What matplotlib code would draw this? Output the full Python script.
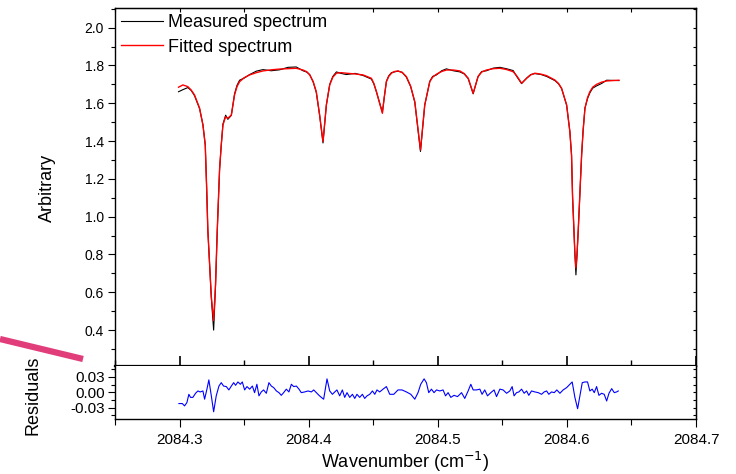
import matplotlib
matplotlib.use("Agg")
import matplotlib.pyplot as plt
from matplotlib.lines import Line2D
from matplotlib.ticker import MultipleLocator, FormatStrFormatter

plt.rcParams['font.family'] = ['Liberation Sans', 'DejaVu Sans']

# spectrum
wavenumber = [2084.2992, 2084.3026, 2084.3064, 2084.3090, 2084.3116, 2084.3155, 2084.3181,
              2084.3199, 2084.3210, 2084.3219, 2084.3246, 2084.3264, 2084.3279, 2084.3292,
              2084.3310, 2084.3323, 2084.3336, 2084.3357, 2084.3374, 2084.3401, 2084.3426,
              2084.3445, 2084.3465, 2084.3500, 2084.3543, 2084.3595, 2084.3646, 2084.3710,
              2084.3775, 2084.3840, 2084.3904, 2084.3956, 2084.3985, 2084.4008, 2084.4035,
              2084.4059, 2084.4085, 2084.4111, 2084.4137, 2084.4163, 2084.4187, 2084.4215,
              2084.4250, 2084.4292, 2084.4360, 2084.4421, 2084.4486, 2084.4505, 2084.4525,
              2084.4571, 2084.4585, 2084.4602, 2084.4620, 2084.4641, 2084.4665, 2084.4692,
              2084.4725, 2084.4757, 2084.4790, 2084.4822, 2084.4866, 2084.4899, 2084.4938,
              2084.4960, 2084.4990, 2084.5030, 2084.5067, 2084.5120, 2084.5171, 2084.5205,
              2084.5236, 2084.5274, 2084.5312, 2084.5340, 2084.5377, 2084.5430, 2084.5481,
              2084.5530, 2084.5584, 2084.5615, 2084.5649, 2084.5688, 2084.5720, 2084.5752,
              2084.5800, 2084.5843, 2084.5907, 2084.5935, 2084.5959, 2084.5998, 2084.6023,
              2084.6036, 2084.6044, 2084.6062, 2084.6070, 2084.6078, 2084.6088, 2084.6114,
              2084.6126, 2084.6140, 2084.6160, 2084.6178, 2084.6200, 2084.6230, 2084.6270,
              2084.6308, 2084.6403]

fitted = [1.685, 1.697, 1.688, 1.670, 1.644, 1.574, 1.485, 1.379, 1.150, 0.930, 0.577,
          0.450, 0.650, 0.930, 1.250, 1.379, 1.485, 1.529, 1.520, 1.538, 1.644, 1.688,
          1.714, 1.735, 1.750, 1.762, 1.771, 1.777, 1.781, 1.783, 1.785, 1.776, 1.767,
          1.750, 1.715, 1.661, 1.538, 1.397, 1.591, 1.697, 1.738, 1.759, 1.762, 1.759,
          1.755, 1.750, 1.732, 1.705, 1.661, 1.547, 1.630, 1.714, 1.742, 1.759, 1.768,
          1.771, 1.762, 1.741, 1.690, 1.608, 1.353, 1.591, 1.714, 1.738, 1.754, 1.768,
          1.776, 1.776, 1.771, 1.757, 1.732, 1.653, 1.741, 1.765, 1.776, 1.783, 1.785,
          1.779, 1.767, 1.742, 1.706, 1.732, 1.750, 1.759, 1.754, 1.746, 1.723, 1.705,
          1.679, 1.591, 1.450, 1.326, 1.106, 0.808, 0.729, 0.800, 0.930, 1.326, 1.458,
          1.574, 1.630, 1.661, 1.685, 1.700, 1.712, 1.718, 1.722]

measured = [1.661, 1.672, 1.683, 1.668, 1.640, 1.572, 1.487, 1.380, 1.150, 0.928, 0.570,
            0.400, 0.640, 0.925, 1.250, 1.380, 1.490, 1.537, 1.515, 1.536, 1.650, 1.695,
            1.722, 1.733, 1.752, 1.770, 1.778, 1.772, 1.777, 1.790, 1.792, 1.772, 1.765,
            1.752, 1.712, 1.658, 1.535, 1.390, 1.590, 1.700, 1.742, 1.766, 1.758, 1.752,
            1.758, 1.747, 1.728, 1.702, 1.660, 1.552, 1.628, 1.716, 1.745, 1.762, 1.766,
            1.770, 1.764, 1.738, 1.688, 1.606, 1.345, 1.590, 1.716, 1.742, 1.750, 1.772,
            1.782, 1.772, 1.766, 1.755, 1.730, 1.650, 1.742, 1.768, 1.772, 1.786, 1.790,
            1.783, 1.773, 1.738, 1.704, 1.733, 1.752, 1.757, 1.752, 1.742, 1.720, 1.703,
            1.678, 1.590, 1.450, 1.325, 1.105, 0.800, 0.692, 0.790, 0.928, 1.325, 1.460,
            1.575, 1.625, 1.655, 1.680, 1.692, 1.705, 1.722, 1.720]

# residuals
wn_res = [2084.2995, 2084.3021, 2084.3039, 2084.3057, 2084.3072, 2084.3085, 2084.3103,
          2084.3124, 2084.3142, 2084.3160, 2084.3181, 2084.3194, 2084.3212, 2084.3227,
          2084.3246, 2084.3264, 2084.3284, 2084.3305, 2084.3323, 2084.3341, 2084.3362,
          2084.3382, 2084.3401, 2084.3419, 2084.3434, 2084.3452, 2084.3471, 2084.3486,
          2084.3504, 2084.3522, 2084.3543, 2084.3564, 2084.3581, 2084.3599, 2084.3615,
          2084.3633, 2084.3651, 2084.3672, 2084.3692, 2084.3711, 2084.3729, 2084.3750,
          2084.3770, 2084.3788, 2084.3806, 2084.3827, 2084.3847, 2084.3866, 2084.3884,
          2084.3905, 2084.3925, 2084.3943, 2084.3969, 2084.3995, 2084.4021, 2084.4039,
          2084.4060, 2084.4080, 2084.4098, 2084.4116, 2084.4142, 2084.4163, 2084.4184,
          2084.4202, 2084.4219, 2084.4240, 2084.4261, 2084.4279, 2084.4297, 2084.4318,
          2084.4339, 2084.4357, 2084.4374, 2084.4395, 2084.4416, 2084.4434, 2084.4452,
          2084.4473, 2084.4494, 2084.4512, 2084.4529, 2084.4550, 2084.4576, 2084.4602,
          2084.4628, 2084.4659, 2084.4692, 2084.4723, 2084.4757, 2084.4791, 2084.4822,
          2084.4847, 2084.4868, 2084.4894, 2084.4912, 2084.4930, 2084.4951, 2084.4971,
          2084.4990, 2084.5016, 2084.5041, 2084.5060, 2084.5080, 2084.5101, 2084.5126,
          2084.5153, 2084.5184, 2084.5209, 2084.5235, 2084.5256, 2084.5274, 2084.5300,
          2084.5326, 2084.5343, 2084.5364, 2084.5385, 2084.5411, 2084.5436, 2084.5455,
          2084.5481, 2084.5506, 2084.5533, 2084.5558, 2084.5576, 2084.5591, 2084.5610,
          2084.5628, 2084.5649, 2084.5669, 2084.5688, 2084.5705, 2084.5726, 2084.5752,
          2084.5778, 2084.5804, 2084.5824, 2084.5843, 2084.5860, 2084.5881, 2084.5902,
          2084.5922, 2084.5946, 2084.5971, 2084.5998, 2084.6023, 2084.6041, 2084.6062,
          2084.6083, 2084.6101, 2084.6119, 2084.6140, 2084.6160, 2084.6178, 2084.6196,
          2084.6212, 2084.6230, 2084.6248, 2084.6269, 2084.6289, 2084.6308, 2084.6326,
          2084.6347, 2084.6367, 2084.6385, 2084.6398]

residuals = [-0.022, -0.022, -0.0265, -0.020, -0.004, -0.010, -0.010, -0.002, 0.0025,
             0.0006, 0.0025, -0.0135, 0.006, 0.024, -0.007, -0.038, -0.007, 0.012, 0.0186,
             0.012, 0.011, 0.0045, 0.012, 0.0186, 0.0135, 0.020, 0.0155, 0.020, 0.0045,
             0.011, 0.006, 0.012, -0.0008, 0.0155, -0.007, 0.0006, 0.0045, -0.002, 0.0186,
             0.012, 0.009, 0.0025, -0.0008, -0.006, -0.0008, 0.006, 0.0006, 0.0155, 0.011,
             0.012, 0.006, -0.0008, 0.0006, 0.0025, 0.0006, 0.0045, -0.0008, -0.006, -0.010,
             -0.0135, 0.026, 0.0025, -0.004, 0.0006, 0.0045, -0.007, 0.0045, -0.010, -0.0008,
             -0.010, -0.004, -0.012, -0.004, -0.010, -0.004, -0.012, -0.007, -0.004, 0.0025,
             -0.004, 0.0045, 0.0006, 0.006, 0.011, -0.004, -0.004, 0.0045, 0.0045, 0.0006,
             -0.004, -0.0135, -0.0008, 0.0155, 0.026, 0.0186, -0.0008, 0.006, -0.0008, 0.0045,
             0.0025, 0.0045, -0.007, -0.0008, -0.010, -0.006, -0.0085, -0.0008, -0.012,
             0.0025, 0.0155, 0.0045, 0.0045, 0.006, -0.004, 0.0045, -0.007, -0.0008, 0.0045,
             -0.0085, 0.006, 0.0045, -0.002, 0.0025, 0.011, -0.007, -0.0008, 0.0006, 0.006,
             -0.002, 0.0025, -0.006, 0.0025, 0.0006, -0.0008, -0.004, 0.0006, 0.0025, -0.004,
             0.0006, -0.0008, 0.0045, -0.002, 0.0045, 0.009, 0.0155, 0.020, -0.010, -0.032,
             -0.007, 0.0186, 0.020, 0.020, 0.0025, 0.006, -0.0008, 0.011, -0.006, -0.002,
             -0.004, -0.017, -0.002, 0.007, -0.0008, 0.0006, 0.0025]

fig = plt.figure(figsize=(7.36, 4.74), dpi=100)
W, H = 736.0, 474.0
left, right = 115 / W, 696 / W
ax = fig.add_axes([left, 1 - 366 / H, right - left, (366 - 8) / H])
axr = fig.add_axes([left, 1 - 419 / H, right - left, (419 - 366) / H])

# top panel
ax.plot(wavenumber, measured, color='black', lw=0.8, label='Measured spectrum')
ax.plot(wavenumber, fitted, color='red', lw=1.0, label='Fitted spectrum')
ax.set_xlim(2084.25, 2084.7)
ax.set_ylim(0.21, 2.104)
ax.yaxis.set_major_locator(MultipleLocator(0.2))
ax.yaxis.set_minor_locator(MultipleLocator(0.1))
ax.yaxis.set_major_formatter(FormatStrFormatter('%.1f'))
ax.xaxis.set_major_locator(MultipleLocator(0.1))
ax.xaxis.set_minor_locator(MultipleLocator(0.05))
ax.tick_params(axis='y', which='major', direction='out', length=5, width=0.8, labelsize=10, pad=3)
ax.tick_params(axis='y', which='minor', direction='out', length=3, width=0.8)
ax.tick_params(axis='x', which='major', direction='inout', length=15, width=1.2, labelbottom=False)
ax.tick_params(axis='x', which='minor', direction='inout', length=8, width=1.0)
for s in ['left', 'top', 'right']:
    ax.spines[s].set_linewidth(1.0)
ax.spines['bottom'].set_linewidth(1.6)

top = ax.secondary_xaxis('top')
top.xaxis.set_major_locator(MultipleLocator(0.05))
top.tick_params(direction='in', length=3, width=0.8, labeltop=False)
rgt = ax.secondary_yaxis('right')
rgt.yaxis.set_major_locator(MultipleLocator(0.1))
rgt.tick_params(direction='in', length=2, width=0.8, labelright=False)

leg = ax.legend(loc='upper left', bbox_to_anchor=(0.0, 1.0), frameon=False, fontsize=13,
                handlelength=2.3, handletextpad=0.3, borderpad=0.25, borderaxespad=0.1,
                labelspacing=0.4)

# residual panel
axr.plot(wn_res, residuals, color='blue', lw=0.8)
axr.set_xlim(2084.25, 2084.7)
axr.set_ylim(-0.052, 0.051)
axr.yaxis.set_major_locator(MultipleLocator(0.03))
axr.yaxis.set_minor_locator(MultipleLocator(0.015))
axr.yaxis.set_major_formatter(FormatStrFormatter('%.2f'))
axr.xaxis.set_major_locator(MultipleLocator(0.1))
axr.xaxis.set_minor_locator(MultipleLocator(0.05))
axr.xaxis.set_major_formatter(FormatStrFormatter('%.1f'))
axr.tick_params(axis='y', which='major', direction='out', length=5, width=0.8, labelsize=11, pad=2)
axr.tick_params(axis='y', which='minor', direction='out', length=3, width=0.8)
axr.tick_params(axis='x', which='major', direction='out', length=6, width=0.8, labelsize=11, pad=4)
axr.tick_params(axis='x', which='minor', direction='out', length=4, width=0.8)
axr.spines['top'].set_visible(False)
for s in ['left', 'bottom', 'right']:
    axr.spines[s].set_linewidth(1.0)
rgt2 = axr.secondary_yaxis('right')
rgt2.yaxis.set_major_locator(MultipleLocator(0.015))
rgt2.tick_params(direction='in', length=2, width=0.8, labelright=False)

fig.text(47 / W, 1 - 188 / H, 'Arbitrary', rotation=90, ha='center', va='center', fontsize=13)
fig.text(33 / W, 1 - 395 / H, 'Residuals', rotation=90, ha='center', va='center', fontsize=13)
fig.text(405 / W, 1 - 462 / H, 'Wavenumber (cm$^{-1}$)', ha='center', va='center', fontsize=13)

# pink marker stroke on the left edge
fig.add_artist(Line2D([0, 83 / W], [1 - 339 / H, 1 - 359 / H], transform=fig.transFigure,
                      color='#e23d7b', lw=4.5, solid_capstyle='butt'))

fig.savefig('out.png', dpi=100)
